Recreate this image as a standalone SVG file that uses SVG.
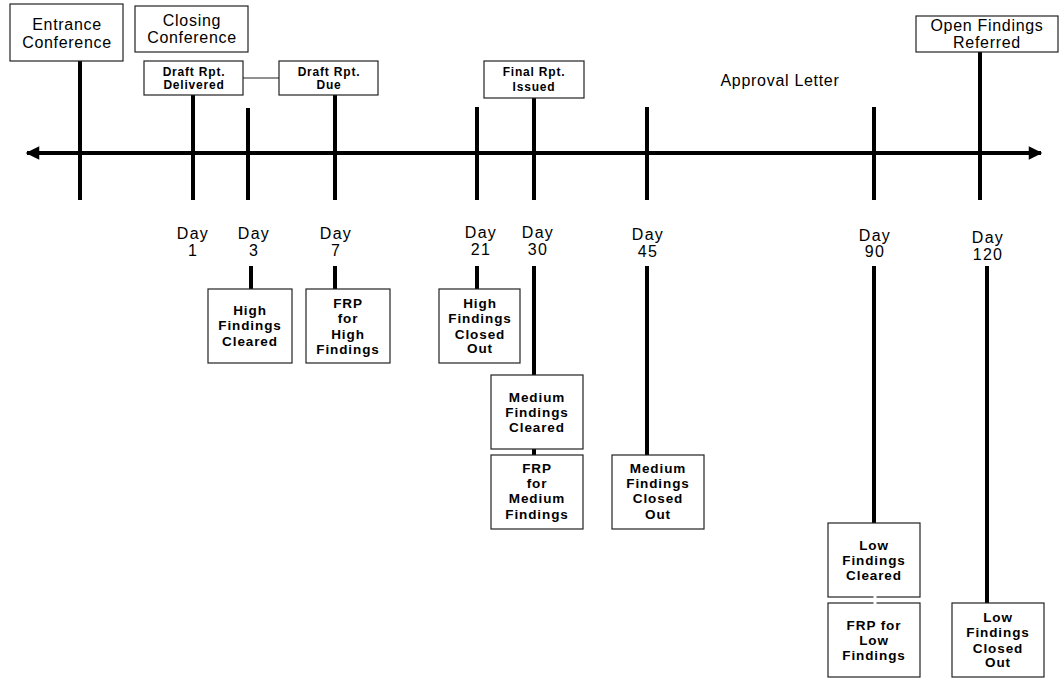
<svg xmlns="http://www.w3.org/2000/svg" width="1060" height="679" viewBox="0 0 1060 679">
<style>
.box{fill:#fff;stroke:#222;stroke-width:1.2}
.t{font-family:"Liberation Sans",Arial,sans-serif;font-size:16px;letter-spacing:0.7px;fill:#000;text-anchor:middle}
.d{font-family:"Liberation Sans",Arial,sans-serif;font-size:16px;letter-spacing:1.3px;fill:#000;text-anchor:middle}
.b{font-family:"Liberation Sans",Arial,sans-serif;font-size:13.5px;font-weight:bold;letter-spacing:0.9px;fill:#000;text-anchor:middle}
.s{font-family:"Liberation Sans",Arial,sans-serif;font-size:12px;font-weight:bold;letter-spacing:0.8px;fill:#000;text-anchor:middle}
.k{stroke:#000;stroke-width:4;fill:none}
.thin{stroke:#222;stroke-width:1.2;fill:none}
</style>
<defs>
<marker id="ah" viewBox="0 0 10 10" refX="9" refY="5" markerWidth="4.2" markerHeight="3.4" orient="auto-start-reverse" markerUnits="strokeWidth">
<path d="M0,0 L10,5 L0,10 z" fill="#000"/>
</marker>
</defs>
<g id="connectors">
<line class="k" x1="27" y1="153" x2="1041" y2="153" marker-start="url(#ah)" marker-end="url(#ah)"/>
<line class="k" x1="80" y1="61" x2="80" y2="200"/>
<line class="k" x1="193" y1="95" x2="193" y2="200"/>
<line class="k" x1="248" y1="108" x2="248" y2="200"/>
<line class="k" x1="335" y1="95" x2="335" y2="200"/>
<line class="k" x1="477" y1="107" x2="477" y2="200"/>
<line class="k" x1="534" y1="98" x2="534" y2="200"/>
<line class="k" x1="647" y1="107" x2="647" y2="200"/>
<line class="k" x1="874" y1="107" x2="874" y2="200"/>
<line class="k" x1="980" y1="50" x2="980" y2="200"/>
<line class="thin" x1="243" y1="78" x2="279" y2="78"/>
<line class="k" x1="251" y1="266" x2="251" y2="289"/>
<line class="k" x1="335" y1="266" x2="335" y2="289"/>
<line class="k" x1="477" y1="266" x2="477" y2="289"/>
<line class="k" x1="534" y1="266" x2="534" y2="375"/>
<line class="k" x1="534" y1="449" x2="534" y2="455"/>
<line class="k" x1="647" y1="266" x2="647" y2="455"/>
<line class="k" x1="874" y1="266" x2="874" y2="523"/>
<line class="k" x1="987" y1="266" x2="987" y2="603"/>
</g>
<g id="entrance"><rect class="box" x="10" y="4" width="113" height="57"/><text class="t" x="67" y="30">Entrance</text><text class="t" x="67" y="48">Conference</text></g>
<g id="closing"><rect class="box" x="135" y="6" width="113" height="46"/><text class="t" x="192" y="26">Closing</text><text class="t" x="192" y="43">Conference</text></g>
<g id="draft-delivered"><rect class="box" x="144" y="61" width="99" height="34"/><text class="s" x="194" y="76">Draft Rpt.</text><text class="s" x="194" y="89">Delivered</text></g>
<g id="draft-due"><rect class="box" x="279" y="61" width="99" height="34"/><text class="s" x="329" y="76">Draft Rpt.</text><text class="s" x="329" y="89">Due</text></g>
<g id="final-issued"><rect class="box" x="484" y="61" width="100" height="37"/><text class="s" x="534" y="76">Final Rpt.</text><text class="s" x="534" y="91">Issued</text></g>
<g id="approval"><text class="t" x="780" y="86">Approval Letter</text></g>
<g id="open-findings"><rect class="box" x="916" y="16" width="142" height="36"/><text class="t" x="987" y="31">Open Findings</text><text class="t" x="987" y="48">Referred</text></g>
<g id="day1"><text class="d" x="193" y="239">Day</text><text class="d" x="193" y="256">1</text></g>
<g id="day3"><text class="d" x="254" y="239">Day</text><text class="d" x="254" y="256">3</text></g>
<g id="day7"><text class="d" x="336" y="239">Day</text><text class="d" x="336" y="256">7</text></g>
<g id="day21"><text class="d" x="481" y="238">Day</text><text class="d" x="481" y="255">21</text></g>
<g id="day30"><text class="d" x="538" y="238">Day</text><text class="d" x="538" y="255">30</text></g>
<g id="day45"><text class="d" x="648" y="240">Day</text><text class="d" x="648" y="257">45</text></g>
<g id="day90"><text class="d" x="875" y="241">Day</text><text class="d" x="875" y="257">90</text></g>
<g id="day120"><text class="d" x="988" y="243">Day</text><text class="d" x="988" y="260">120</text></g>
<g id="high-cleared"><rect class="box" x="208" y="289" width="84" height="74"/><text class="b" x="250" y="315">High</text><text class="b" x="250" y="330">Findings</text><text class="b" x="250" y="346">Cleared</text></g>
<g id="frp-high"><rect class="box" x="306" y="289" width="84" height="74"/><text class="b" x="348" y="308">FRP</text><text class="b" x="348" y="323">for</text><text class="b" x="348" y="339">High</text><text class="b" x="348" y="354">Findings</text></g>
<g id="high-closed"><rect class="box" x="439" y="289" width="81" height="74"/><text class="b" x="480" y="308">High</text><text class="b" x="480" y="323">Findings</text><text class="b" x="480" y="339">Closed</text><text class="b" x="480" y="353">Out</text></g>
<g id="medium-cleared"><rect class="box" x="491" y="375" width="92" height="74"/><text class="b" x="537" y="402">Medium</text><text class="b" x="537" y="417">Findings</text><text class="b" x="537" y="432">Cleared</text></g>
<g id="frp-medium"><rect class="box" x="491" y="455" width="92" height="74"/><text class="b" x="537" y="473">FRP</text><text class="b" x="537" y="488">for</text><text class="b" x="537" y="503">Medium</text><text class="b" x="537" y="519">Findings</text></g>
<g id="medium-closed"><rect class="box" x="612" y="455" width="92" height="74"/><text class="b" x="658" y="473">Medium</text><text class="b" x="658" y="488">Findings</text><text class="b" x="658" y="503">Closed</text><text class="b" x="658" y="519">Out</text></g>
<g id="low-cleared"><rect class="box" x="828" y="523" width="92" height="74"/><text class="b" x="874" y="550">Low</text><text class="b" x="874" y="565">Findings</text><text class="b" x="874" y="580">Cleared</text></g>
<g id="frp-low"><rect class="box" x="828" y="603" width="92" height="74"/><text class="b" x="874" y="630">FRP for</text><text class="b" x="874" y="645">Low</text><text class="b" x="874" y="660">Findings</text></g>
<g id="low-closed"><rect class="box" x="952" y="603" width="92" height="74"/><text class="b" x="998" y="622">Low</text><text class="b" x="998" y="637">Findings</text><text class="b" x="998" y="653">Closed</text><text class="b" x="998" y="667">Out</text></g>
<line x1="875" y1="596" x2="875" y2="604" stroke="#fff" stroke-width="3"/>
</svg>
